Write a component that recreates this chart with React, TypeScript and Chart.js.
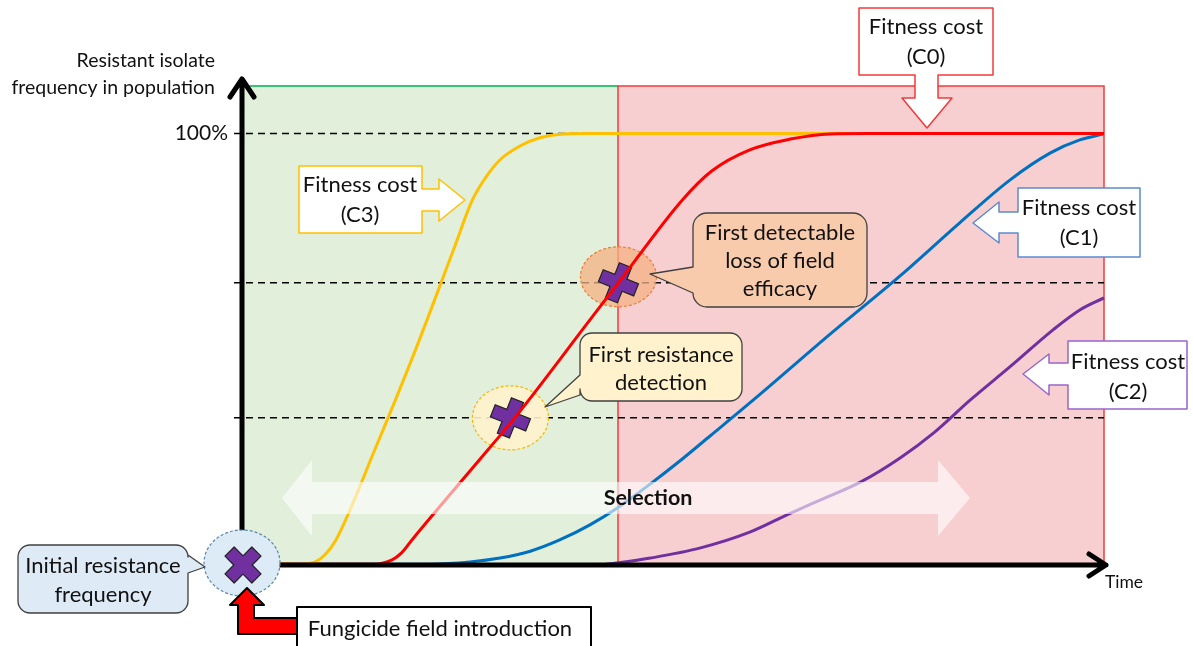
import React, { useEffect, useRef } from "react";
import { Chart, registerables } from "chart.js";
Chart.register(...registerables);

// ---- Data (time in % of plot width, frequency in %) ----
const c3Time = [0, 6.9, 8.7, 9.8, 11.1, 15.6, 20.3, 24.7, 26.9, 28.4, 30.1, 32.4, 34.7, 37.4, 40.5, 43.8, 74.1];
const c3Freq = [0.5, 0.2, 0.7, 2.3, 5.8, 26.7, 49.8, 73.0, 84.6, 89.7, 93.9, 97.1, 99.0, 99.9, 100, 100, 100];

const c0Time = [0, 15.6, 17.6, 18.7, 19.9, 28.7, 31.8, 40.5, 43.8, 51.2, 54.6, 59.0, 63.7, 68.3, 72.9, 100];
const c0Freq = [0.2, 0.2, 1.2, 2.8, 5.8, 26.7, 34.1, 56.8, 65.4, 84.6, 91.3, 96.2, 98.7, 99.9, 100, 100];

const c1Time = [0, 22.0, 26.6, 30.1, 33.6, 37.0, 40.5, 43.8, 47.5, 50.9, 54.4, 59.8, 68.3, 76.4, 83.3, 89.1, 93.8, 97.2, 100];
const c1Freq = [0.2, 0.2, 0.7, 1.6, 3.2, 5.8, 9.3, 13.4, 18.8, 24.1, 29.9, 38.9, 53.5, 67.0, 79.3, 89.2, 95.5, 98.5, 99.9];

const c2Time = [41.7, 43.8, 47.5, 53.2, 59.0, 63.3, 67.2, 71.8, 76.4, 80.4, 84.5, 89.1, 94.1, 97.2, 100];
const c2Freq = [0, 0.5, 1.6, 3.9, 7.6, 11.6, 15.1, 19.2, 24.8, 30.8, 38.2, 45.9, 54.5, 59.1, 61.9];

const thresholdLevels = [100, 65.4, 34.1];
const phaseBounds = [0, 43.75, 100];
const detectionPoint = [31.3, 34.1];
const lossPoint = [43.8, 65.4];
const initialPoint = [0, 0];

const FONT = "Lato, 'Open Sans', sans-serif";

type Pt = [number, number];

function poly(ctx: CanvasRenderingContext2D, pts: Pt[]) {
  ctx.beginPath();
  pts.forEach(([a, b], i) => (i ? ctx.lineTo(a, b) : ctx.moveTo(a, b)));
  ctx.closePath();
}

function drawCross(ctx: CanvasRenderingContext2D, cx: number, cy: number, size: number, thick: number, angle: number) {
  const a = size / 2, b = thick / 2;
  const pts: Pt[] = [[-b, -a], [b, -a], [b, -b], [a, -b], [a, b], [b, b], [b, a], [-b, a], [-b, b], [-a, b], [-a, -b], [-b, -b]];
  ctx.save();
  ctx.translate(cx, cy);
  ctx.rotate(angle);
  poly(ctx, pts);
  ctx.fillStyle = "#7030A0";
  ctx.fill();
  ctx.strokeStyle = "#222";
  ctx.lineWidth = 1.2;
  ctx.setLineDash([]);
  ctx.stroke();
  ctx.restore();
}

function drawEllipse(ctx: CanvasRenderingContext2D, cx: number, cy: number, rx: number, ry: number, fill: string, stroke: string) {
  ctx.save();
  ctx.beginPath();
  ctx.ellipse(cx, cy, rx, ry, 0, 0, Math.PI * 2);
  ctx.fillStyle = fill;
  ctx.fill();
  ctx.setLineDash([3, 2]);
  ctx.strokeStyle = stroke;
  ctx.lineWidth = 1.2;
  ctx.stroke();
  ctx.restore();
}

function lines(ctx: CanvasRenderingContext2D, arr: string[], cx: number, cy0: number, lh: number, size: number, bold = false, color = "#111") {
  ctx.save();
  ctx.font = `${bold ? "bold " : ""}${size}px ${FONT}`;
  ctx.fillStyle = color;
  ctx.textAlign = "center";
  ctx.textBaseline = "middle";
  arr.forEach((s, i) => ctx.fillText(s, cx, cy0 + i * lh));
  ctx.restore();
}

function callout(
  ctx: CanvasRenderingContext2D, x: number, y: number, w: number, h: number, r: number,
  side: "left" | "right", y1: number, y2: number, tip: Pt, fill: string
) {
  ctx.save();
  ctx.beginPath();
  ctx.moveTo(x + r, y);
  ctx.lineTo(x + w - r, y);
  ctx.arcTo(x + w, y, x + w, y + r, r);
  if (side === "right") {
    ctx.lineTo(x + w, y1);
    ctx.lineTo(tip[0], tip[1]);
    ctx.lineTo(x + w, y2);
  }
  ctx.lineTo(x + w, y + h - r);
  ctx.arcTo(x + w, y + h, x + w - r, y + h, r);
  ctx.lineTo(x + r, y + h);
  ctx.arcTo(x, y + h, x, y + h - r, r);
  if (side === "left") {
    ctx.lineTo(x, y2);
    ctx.lineTo(tip[0], tip[1]);
    ctx.lineTo(x, y1);
  }
  ctx.lineTo(x, y + r);
  ctx.arcTo(x, y, x + r, y, r);
  ctx.closePath();
  ctx.fillStyle = fill;
  ctx.fill();
  ctx.strokeStyle = "#404040";
  ctx.lineWidth = 1.3;
  ctx.stroke();
  ctx.restore();
}

function arrowBox(ctx: CanvasRenderingContext2D, pts: Pt[], stroke: string) {
  ctx.save();
  poly(ctx, pts);
  ctx.fillStyle = "#ffffff";
  ctx.fill();
  ctx.strokeStyle = stroke;
  ctx.lineWidth = 1.5;
  ctx.stroke();
  ctx.restore();
}

const diagramPlugin = {
  id: "diagram",
  beforeDatasetsDraw(chart: any) {
    const { ctx, chartArea, scales } = chart;
    const X = (v: number) => scales.x.getPixelForValue(v);
    const Y = (v: number) => scales.y.getPixelForValue(v);
    const top = chartArea.top;
    const bottom = Y(0);
    ctx.save();
    ctx.fillStyle = "#E2EFDA";
    ctx.fillRect(X(phaseBounds[0]), top, X(phaseBounds[1]) - X(phaseBounds[0]), bottom - top);
    ctx.fillStyle = "#F8CFD1";
    ctx.fillRect(X(phaseBounds[1]), top, X(phaseBounds[2]) - X(phaseBounds[1]), bottom - top);
    ctx.lineWidth = 1.5;
    ctx.strokeStyle = "#00B050";
    ctx.beginPath();
    ctx.moveTo(X(phaseBounds[0]), top);
    ctx.lineTo(X(phaseBounds[1]), top);
    ctx.stroke();
    ctx.strokeStyle = "#F03C3C";
    ctx.beginPath();
    ctx.moveTo(X(phaseBounds[1]), bottom);
    ctx.lineTo(X(phaseBounds[1]), top);
    ctx.lineTo(X(phaseBounds[2]), top);
    ctx.lineTo(X(phaseBounds[2]), bottom);
    ctx.stroke();
    ctx.strokeStyle = "#000";
    ctx.lineWidth = 1.5;
    ctx.setLineDash([7, 5]);
    thresholdLevels.forEach((l) => {
      ctx.beginPath();
      ctx.moveTo(X(0) - 6, Y(l));
      ctx.lineTo(X(100), Y(l));
      ctx.stroke();
    });
    ctx.setLineDash([]);
    drawEllipse(ctx, X(detectionPoint[0]), Y(detectionPoint[1]), 38, 32, "rgba(255,242,204,0.9)", "#F5B800");
    drawCross(ctx, X(detectionPoint[0]), Y(detectionPoint[1]), 38, 13, 0.38);
    drawEllipse(ctx, X(lossPoint[0]), Y(lossPoint[1]) - 6, 38, 30, "rgba(244,177,131,0.75)", "#ED7D31");
    drawCross(ctx, X(lossPoint[0]), Y(lossPoint[1]), 38, 13, 0.38);
    ctx.restore();
  },
  afterDatasetsDraw(chart: any) {
    const { ctx, scales } = chart;
    const X = (v: number) => scales.x.getPixelForValue(v);
    const Y = (v: number) => scales.y.getPixelForValue(v);
    const ox = X(0) + 2;
    const oy = Y(0);
    ctx.save();
    ctx.strokeStyle = "#000";
    ctx.lineWidth = 5;
    ctx.lineCap = "round";
    ctx.lineJoin = "round";
    ctx.beginPath();
    ctx.moveTo(ox, oy + 2);
    ctx.lineTo(ox, 79);
    ctx.moveTo(ox - 12, 97);
    ctx.lineTo(ox, 79);
    ctx.lineTo(ox + 12, 97);
    ctx.stroke();
    ctx.beginPath();
    ctx.moveTo(ox - 2, oy);
    ctx.lineTo(1106, oy);
    ctx.moveTo(1089, oy - 11);
    ctx.lineTo(1106, oy);
    ctx.lineTo(1089, oy + 11);
    ctx.stroke();
    ctx.lineCap = "butt";

    ctx.fillStyle = "#111";
    ctx.font = `19.5px ${FONT}`;
    ctx.textAlign = "right";
    ctx.textBaseline = "middle";
    ctx.fillText("Resistant isolate", 215, 61);
    ctx.fillText("frequency in population", 215, 88);
    ctx.font = `21px ${FONT}`;
    ctx.fillText("100%", 228, Y(100));
    ctx.textAlign = "left";
    ctx.font = `17.5px ${FONT}`;
    ctx.fillText("Time", 1105, 582);

    const sy = 498;
    poly(ctx, [[282, sy], [312, sy - 38], [312, sy - 16], [938, sy - 16], [938, sy - 38], [970, sy], [938, sy + 38], [938, sy + 16], [312, sy + 16], [312, sy + 38]]);
    ctx.fillStyle = "rgba(255,255,255,0.6)";
    ctx.fill();
    lines(ctx, ["Selection"], 648, sy, 0, 21.5, true);

    drawEllipse(ctx, ox, oy - 2, 38, 33, "#DDEBF7", "#5B87B0");
    drawCross(ctx, X(initialPoint[0]) + 3, Y(initialPoint[1]), 38, 13, Math.PI / 4);

    poly(ctx, [[247, 588], [264, 605], [254, 605], [254, 618], [300, 618], [300, 634], [238, 634], [238, 605], [230, 605]]);
    ctx.fillStyle = "#FF0000";
    ctx.fill();
    ctx.strokeStyle = "#000";
    ctx.lineWidth = 2;
    ctx.stroke();

    ctx.fillStyle = "#fff";
    ctx.fillRect(297, 607, 294, 50);
    ctx.strokeStyle = "#000";
    ctx.lineWidth = 2;
    ctx.strokeRect(297, 607, 294, 50);
    lines(ctx, ["Fungicide field introduction"], 440, 629, 0, 22);

    callout(ctx, 18, 545, 170, 68, 12, "right", 555, 573, [205, 567], "#DEEBF7");
    lines(ctx, ["Initial resistance", "frequency"], 103, 566, 29, 22);

    callout(ctx, 580, 333, 162, 68, 12, "left", 375, 395, [545, 407], "#FFF2CC");
    lines(ctx, ["First resistance", "detection"], 661, 355, 28, 22);

    callout(ctx, 693, 213, 174, 94, 14, "left", 267, 293, [650, 274], "#F8CBAD");
    lines(ctx, ["First detectable", "loss of field", "efficacy"], 780, 233, 28, 22);

    arrowBox(ctx, [[859, 8], [993, 8], [993, 75], [938, 75], [938, 98], [952, 98], [927, 128], [902, 98], [915, 98], [915, 75], [859, 75]], "#F23A3A");
    lines(ctx, ["Fitness cost", "(C0)"], 926, 27, 30, 22);

    arrowBox(ctx, [[299, 166], [422, 166], [422, 189], [439, 189], [439, 179], [465, 200], [439, 221], [439, 211], [422, 211], [422, 233], [299, 233]], "#FFC000");
    lines(ctx, ["Fitness cost", "(C3)"], 360, 185, 30, 22);

    arrowBox(ctx, [[1018, 188], [1140, 188], [1140, 257], [1018, 257], [1018, 233], [999, 233], [999, 243], [973, 223], [999, 202], [999, 212], [1018, 212]], "#5B8BD0");
    lines(ctx, ["Fitness cost", "(C1)"], 1079, 208, 30, 22);

    arrowBox(ctx, [[1068, 341], [1187, 341], [1187, 409], [1068, 409], [1068, 385], [1049, 385], [1049, 395], [1023, 374], [1049, 354], [1049, 363], [1068, 363]], "#9966CC");
    lines(ctx, ["Fitness cost", "(C2)"], 1128, 362, 30, 22);

    ctx.restore();
  },
};

function series(t: number[], f: number[]) {
  return t.map((x, i) => ({ x, y: f[i] }));
}

export default function App() {
  const ref = useRef<HTMLCanvasElement | null>(null);
  useEffect(() => {
    if (!ref.current) return;
    const mk = (label: string, t: number[], f: number[], color: string) => ({
      label,
      data: series(t, f),
      borderColor: color,
      borderWidth: 3,
      pointRadius: 0,
      fill: false,
      cubicInterpolationMode: "monotone" as const,
      clip: false as any,
    });
    const chart = new Chart(ref.current, {
      type: "line",
      data: {
        datasets: [
          mk("C0", c0Time, c0Freq, "#FF0000"),
          mk("C3", c3Time, c3Freq, "#FFC000"),
          mk("C1", c1Time, c1Freq, "#0070C0"),
          mk("C2", c2Time, c2Freq, "#7030A0"),
        ],
      },
      options: {
        animation: false,
        responsive: false,
        devicePixelRatio: 1,
        layout: { padding: { left: 240, right: 89, top: 86, bottom: 81 } },
        plugins: { legend: { display: false }, tooltip: { enabled: false } },
        scales: {
          x: { type: "linear", display: false, min: 0, max: 100 },
          y: { type: "linear", display: false, min: 0, max: 111 },
        },
      },
      plugins: [diagramPlugin],
    });
    return () => chart.destroy();
  }, []);
  return (
    <div style={{ position: "fixed", left: 0, top: 0, width: 1193, height: 646, background: "#fff" }}>
      <canvas ref={ref} width={1193} height={646} style={{ display: "block" }} />
    </div>
  );
}
